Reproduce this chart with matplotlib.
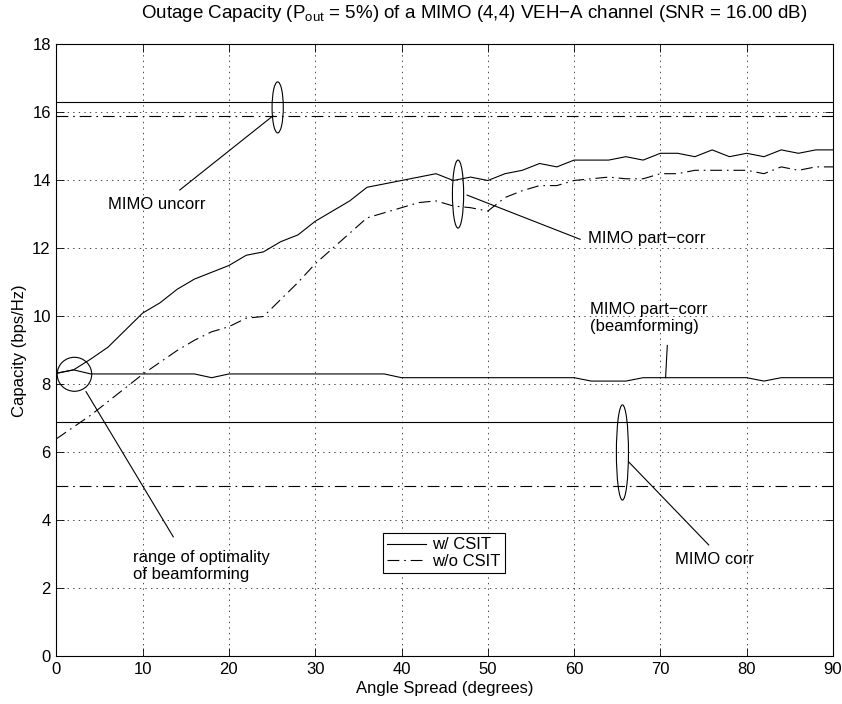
import numpy as np
import matplotlib.pyplot as plt
from matplotlib.patches import Ellipse

plt.rcParams['font.family'] = ['Liberation Sans', 'DejaVu Sans']
plt.rcParams['mathtext.fontset'] = 'custom'
plt.rcParams['mathtext.rm'] = 'Liberation Sans'
plt.rcParams['lines.scale_dashes'] = False

# angle spread (degrees), one point every 2 degrees
angle = np.arange(0, 91, 2)

# MIMO part-corr, w/ CSIT
partcorr_csit = [8.33, 8.43, 8.75, 9.1, 9.6, 10.1, 10.4, 10.8, 11.1, 11.3,
                 11.5, 11.8, 11.9, 12.2, 12.4, 12.8, 13.1, 13.4, 13.8, 13.9,
                 14.0, 14.1, 14.2, 14.0, 14.1, 14.0, 14.2, 14.3, 14.5, 14.4,
                 14.6, 14.6, 14.6, 14.7, 14.6, 14.8, 14.8, 14.7, 14.9, 14.7,
                 14.8, 14.7, 14.9, 14.8, 14.9, 14.9]
# MIMO part-corr, w/o CSIT
partcorr_nocsit = [6.4, 6.75, 7.1, 7.5, 7.9, 8.3, 8.65, 9.0, 9.3, 9.55,
                   9.7, 9.95, 10.0, 10.5, 11.0, 11.55, 12.0, 12.45, 12.9, 13.05,
                   13.2, 13.35, 13.4, 13.25, 13.2, 13.1, 13.5, 13.7, 13.85, 13.85,
                   14.0, 14.05, 14.1, 14.05, 14.05, 14.2, 14.2, 14.3, 14.3, 14.3,
                   14.3, 14.2, 14.4, 14.3, 14.4, 14.4]
# MIMO part-corr, beamforming
beamforming = [8.33, 8.43, 8.31, 8.31, 8.31, 8.31, 8.31, 8.31, 8.31, 8.2,
               8.31, 8.31, 8.31, 8.31, 8.31, 8.31, 8.31, 8.31, 8.31, 8.31,
               8.2, 8.2, 8.2, 8.2, 8.2, 8.2, 8.2, 8.2, 8.2, 8.2,
               8.2, 8.1, 8.1, 8.1, 8.2, 8.2, 8.2, 8.2, 8.2, 8.2,
               8.2, 8.1, 8.2, 8.2, 8.2, 8.2]

uncorr_csit = 16.3
uncorr_nocsit = 15.9
corr_csit = 6.9
corr_nocsit = 5.0

dashdot = (0, (8.5, 3.5, 1.2, 3.5))
lw = 0.8
fs = 12

fig = plt.figure(figsize=(8.42, 7.04), dpi=100)
ax = fig.add_axes([0.0669, 0.0675, 0.9224, 0.8693])

l1, = ax.plot(angle, partcorr_csit, color='k', lw=lw, label='w/ CSIT')
l2, = ax.plot(angle, partcorr_nocsit, color='k', lw=lw, ls=dashdot, label='w/o CSIT')
ax.plot(angle, beamforming, color='k', lw=lw)
ax.axhline(uncorr_csit, color='k', lw=lw)
ax.axhline(uncorr_nocsit, color='k', lw=lw, ls=dashdot)
ax.axhline(corr_csit, color='k', lw=lw)
ax.axhline(corr_nocsit, color='k', lw=lw, ls=dashdot)

# annotations
ax.add_patch(Ellipse((25.65, 16.15), 1.3, 1.5, fill=False, ec='k', lw=lw))
ax.plot([25.1, 14.3], [15.9, 13.72], color='k', lw=lw)
ax.text(6.0, 13.28, 'MIMO uncorr', fontsize=fs, va='center', ha='left')

ax.add_patch(Ellipse((46.55, 13.6), 1.3, 2.0, fill=False, ec='k', lw=lw))
ax.plot([47.6, 60.7], [13.57, 12.27], color='k', lw=lw)
ax.text(61.6, 12.28, 'MIMO part\u2212corr', fontsize=fs, va='center', ha='left')

ax.plot([70.8, 70.6], [9.15, 8.2], color='k', lw=lw)
ax.text(61.9, 9.95, 'MIMO part\u2212corr\n(beamforming)', fontsize=fs,
        va='center', ha='left', linespacing=1.15)

ax.add_patch(Ellipse((2.1, 8.3), 4.0, 1.0, fill=False, ec='k', lw=lw))
ax.plot([3.44, 13.55], [7.79, 3.52], color='k', lw=lw)
ax.text(8.85, 2.66, 'range of optimality\nof beamforming', fontsize=fs,
        va='center', ha='left', linespacing=1.15)

ax.add_patch(Ellipse((65.6, 6.0), 1.4, 2.8, fill=False, ec='k', lw=lw))
ax.plot([66.3, 75.6], [5.73, 3.28], color='k', lw=lw)
ax.text(71.7, 2.84, 'MIMO corr', fontsize=fs, va='center', ha='left')

leg = ax.legend(handles=[l1, l2], loc='lower left', bbox_to_anchor=(0.421, 0.136),
                borderaxespad=0, fancybox=False, edgecolor='k', framealpha=1,
                fontsize=fs, handlelength=2.3, handletextpad=0.4,
                borderpad=0.25, labelspacing=0.1)
leg.get_frame().set_linewidth(lw)

ax.set_xlim(0, 90)
ax.set_ylim(0, 18)
ax.set_xticks(np.arange(0, 91, 10))
ax.set_yticks(np.arange(0, 19, 2))
ax.tick_params(direction='in', top=True, right=True, length=6, width=0.6,
               labelsize=fs, pad=4)
ax.grid(True, color='k', linestyle=(0, (1, 3)), linewidth=0.5)
for s in ax.spines.values():
    s.set_linewidth(lw)

ax.set_xlabel('Angle Spread (degrees)', fontsize=fs, labelpad=3)
ax.set_ylabel('Capacity (bps/Hz)', fontsize=fs, labelpad=4)
fig.text(474 / 842, 1 - 14 / 704,
         'Outage Capacity (P$_{\\mathrm{out}}$ = 5%) of a MIMO (4,4) VEH\u2212A channel (SNR = 16.00 dB)',
         fontsize=13.5, ha='center', va='center')

fig.savefig('out.png', dpi=100)
